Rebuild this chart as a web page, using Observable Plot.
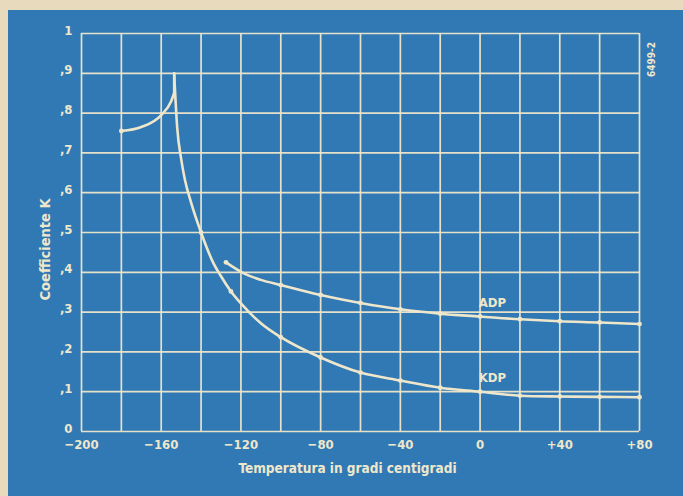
<!DOCTYPE html>
<html>
<head>
<meta charset="utf-8">
<script src="https://cdn.jsdelivr.net/npm/d3@7"></script>
<script src="https://cdn.jsdelivr.net/npm/@observablehq/plot@0.6"></script>
<style>
  html, body { margin: 0; padding: 0; background: #e7dabd; width: 683px; height: 496px; overflow: hidden; }
  #chart { position: absolute; left: 8px; top: 10px; }
  #chart svg { background: #3179b4; display: block; }
</style>
</head>
<body>
<div id="chart"></div>
<script>
// KDP: lower branch rising to the transition, the jump, then the falling branch
const kdpLowT = [-180, -170, -160, -155, -153.5];
const kdpLowK = [0.755, 0.765, 0.795, 0.83, 0.85];
const kdpJumpT = [-153.5, -153.5];
const kdpJumpK = [0.85, 0.90];
const kdpHighT = [-153.5, -153, -152, -150, -148, -145, -140, -134, -130, -125, -120, -110, -100, -80, -60, -40, -20, 0, 20, 40, 60, 80];
const kdpHighK = [0.90, 0.85, 0.765, 0.685, 0.63, 0.575, 0.50, 0.425, 0.39, 0.352, 0.322, 0.272, 0.237, 0.186, 0.148, 0.128, 0.11, 0.10, 0.09, 0.088, 0.087, 0.086];
const kdpDotT = [-180, -140, -125, -100, -80, -60, -40, -20, 0, 20, 40, 60, 80];
const kdpDotK = [0.755, 0.50, 0.352, 0.237, 0.186, 0.148, 0.128, 0.11, 0.10, 0.09, 0.088, 0.087, 0.086];

// ADP
const adpT = [-127.5, -118, -110, -100, -80, -60, -40, -20, 0, 20, 40, 60, 80];
const adpK = [0.425, 0.396, 0.381, 0.368, 0.343, 0.323, 0.307, 0.296, 0.289, 0.282, 0.277, 0.274, 0.27];
const adpDotT = [-127.5, -100, -80, -60, -40, -20, 0, 20, 40, 60, 80];
const adpDotK = [0.425, 0.368, 0.343, 0.323, 0.307, 0.296, 0.289, 0.282, 0.277, 0.274, 0.27];

const gridT = d3.range(-200, 81, 20);
const labelT = [-200, -160, -120, -80, -40, 0, 40, 80];
const gridK = d3.range(0, 11).map(d => d / 10);
const yTickLabels = ["0", ",1", ",2", ",3", ",4", ",5", ",6", ",7", ",8", ",9", "1"];

const seriesLabels = [
  {name: "ADP", t: 6.2, k: 0.324},
  {name: "KDP", t: 6.2, k: 0.136}
];

const ink = "#efe7cb";
const font = "'DejaVu Sans Condensed', 'Liberation Sans Narrow', sans-serif";

const segs = [];
kdpLowT.forEach((t, i) => segs.push({t, k: kdpLowK[i], s: "kdp-low"}));
kdpHighT.forEach((t, i) => segs.push({t, k: kdpHighK[i], s: "kdp-high"}));
adpT.forEach((t, i) => segs.push({t, k: adpK[i], s: "adp"}));
const jump = kdpJumpT.map((t, i) => ({t, k: kdpJumpK[i]}));

const dots = [
  ...kdpDotT.map((t, i) => ({t, k: kdpDotK[i]})),
  ...adpDotT.map((t, i) => ({t, k: adpDotK[i]}))
];

const fmtT = t => t === 0 ? "0" : (t > 0 ? "+" + t : "\u2212" + Math.abs(t));

const chart = Plot.plot({
  width: 675,
  height: 486,
  marginLeft: 73,
  marginRight: 44,
  marginTop: 23,
  marginBottom: 65,
  style: {background: "#3179b4", color: ink, fontFamily: font, fontWeight: "bold", fontSize: "12px"},
  x: {domain: [-200, 80]},
  y: {domain: [0, 1]},
  marks: [
    Plot.gridX(gridT, {stroke: ink, strokeOpacity: 0.95, strokeWidth: 1.7}),
    Plot.gridY(gridK, {stroke: ink, strokeOpacity: 0.95, strokeWidth: 1.7}),
    Plot.axisX(labelT, {tickSize: 0, tickPadding: 8, tickFormat: fmtT, label: null, fill: ink, fontSize: 13}),
    Plot.axisY(gridK, {tickSize: 0, tickPadding: 9, dy: -3, tickFormat: (d) => yTickLabels[Math.round(d * 10)], label: null, fill: ink, fontSize: 13}),
    Plot.line(segs, {x: "t", y: "k", z: "s", curve: "monotone-x", stroke: ink, strokeWidth: 2.6}),
    Plot.line(jump, {x: "t", y: "k", stroke: ink, strokeWidth: 2.6}),
    Plot.dot(dots, {x: "t", y: "k", r: 2.4, fill: ink}),
    Plot.text(seriesLabels, {x: "t", y: "k", text: "name", fill: ink, fontSize: 13, fontWeight: "bold"}),
    Plot.text(["Coefficiente K"], {frameAnchor: "left", rotate: -90, textAnchor: "middle", lineAnchor: "middle", dx: -36, dy: 17, fill: ink, fontSize: 14.5, fontWeight: "bold"}),
    Plot.text(["Temperatura in gradi centigradi"], {frameAnchor: "bottom", textAnchor: "middle", lineAnchor: "middle", dy: 37, dx: -13, fill: ink, fontSize: 13.5, fontWeight: "bold"}),
    Plot.text(["6499-2"], {frameAnchor: "top-right", rotate: -90, textAnchor: "middle", lineAnchor: "middle", dx: 12, dy: 26, fill: ink, fontSize: 10, fontWeight: "bold"})
  ]
});
document.getElementById("chart").appendChild(chart);
</script>
</body>
</html>
